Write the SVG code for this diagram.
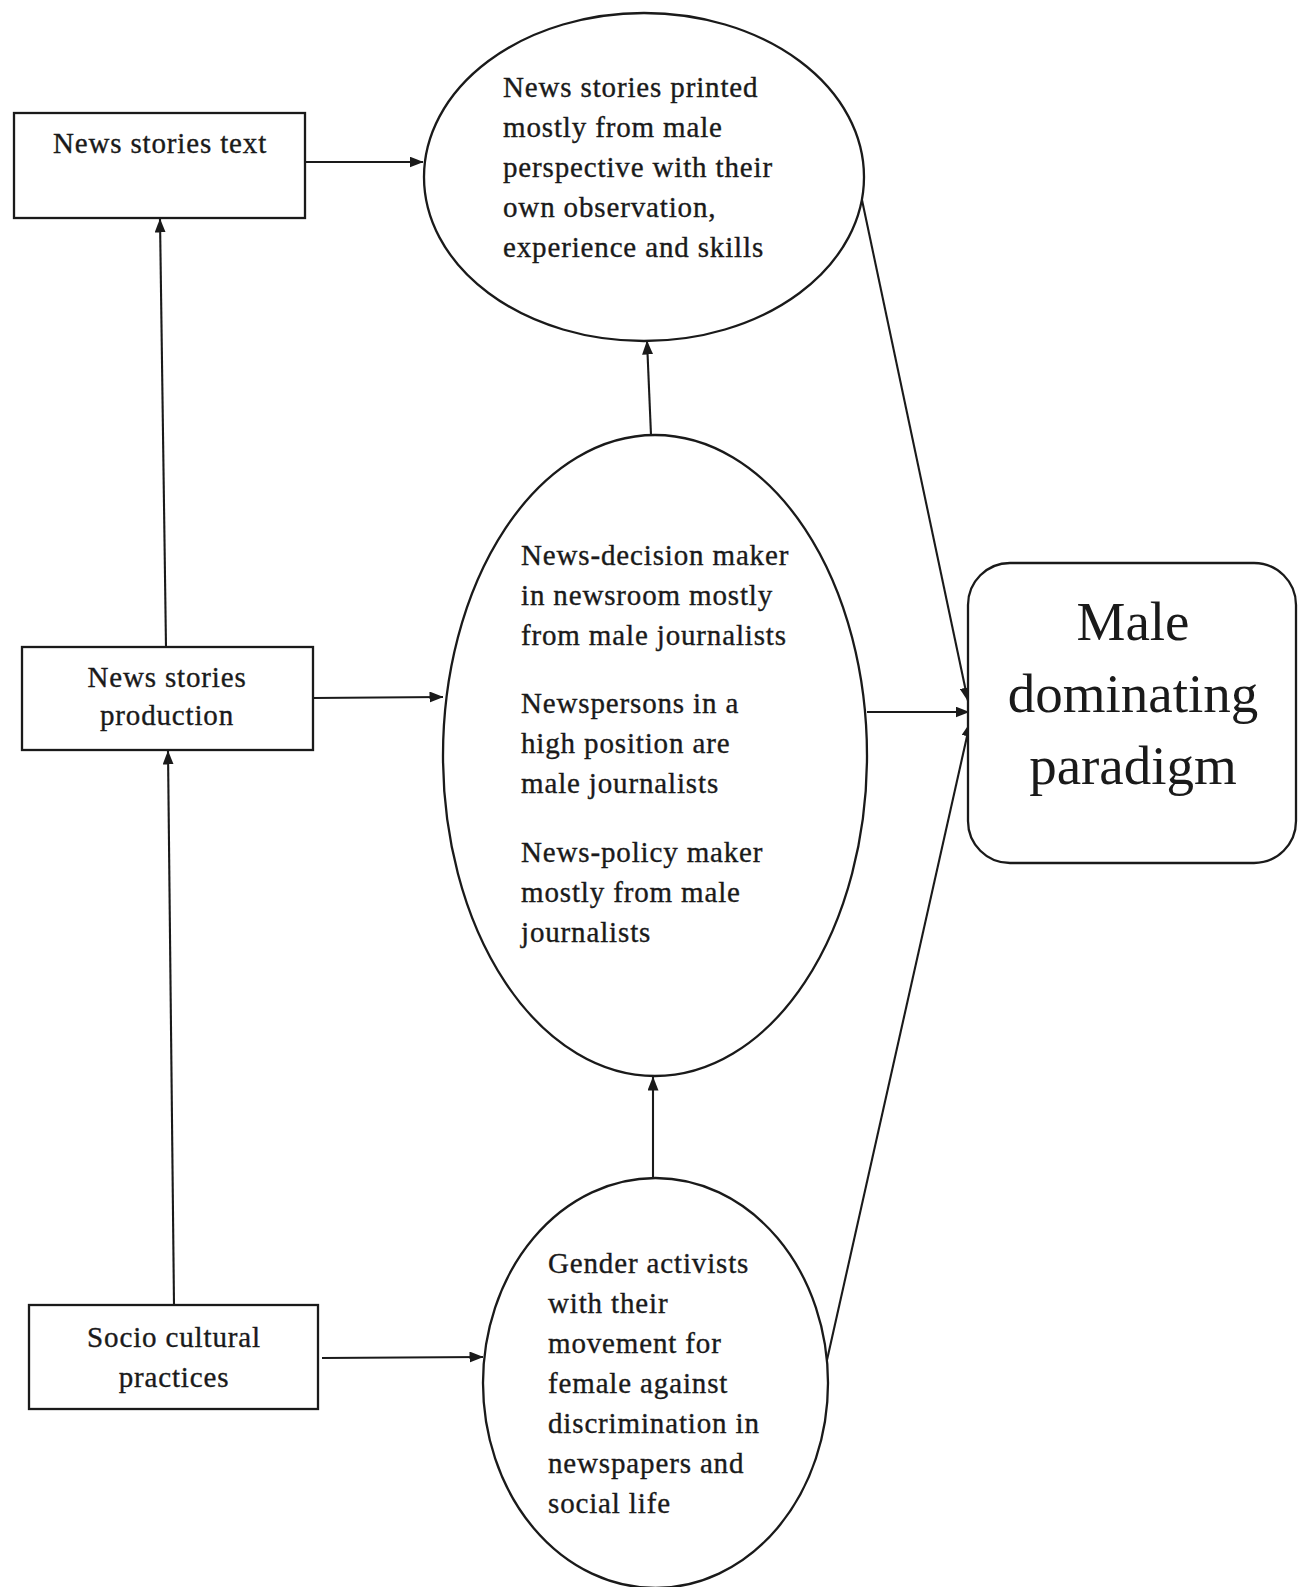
<svg xmlns="http://www.w3.org/2000/svg" width="1298" height="1587" viewBox="0 0 1298 1587">
<style>
.shape{fill:#fff;stroke:#1a1a1a;stroke-width:2.3}
.t{font-family:"Liberation Serif","Times New Roman",serif;font-size:29px;letter-spacing:0.85px;fill:#1a1a1a;stroke:#1a1a1a;stroke-width:0.35}
.c{text-anchor:middle}
.big{font-family:"Liberation Serif","Times New Roman",serif;font-size:55px;fill:#1a1a1a;text-anchor:middle}
.conn{stroke:#1a1a1a;stroke-width:2.1;fill:none;marker-end:url(#arr)}
</style>
<defs>
<marker id="arr" viewBox="0 0 14 11" refX="13.5" refY="5.5" markerWidth="14" markerHeight="11" markerUnits="userSpaceOnUse" orient="auto">
<path d="M0,0 L14,5.5 L0,11 Z" fill="#1a1a1a"/>
</marker>
</defs>
<rect width="1298" height="1587" fill="#fff"/>
<g id="connectors">
<line class="conn" x1="305" y1="162" x2="423" y2="162"/>
<line class="conn" x1="166" y1="647" x2="160" y2="219"/>
<line class="conn" x1="174" y1="1305" x2="168" y2="751"/>
<line class="conn" x1="313" y1="698" x2="443" y2="697"/>
<line class="conn" x1="322" y1="1358" x2="483" y2="1357"/>
<line class="conn" x1="651" y1="435" x2="647" y2="341"/>
<line class="conn" x1="653" y1="1178" x2="653" y2="1077"/>
<line class="conn" x1="867" y1="712" x2="969" y2="712"/>
<line class="conn" x1="862" y1="200" x2="968" y2="701"/>
<line class="conn" x1="827" y1="1360" x2="970" y2="723"/>
</g>
<g id="node-text-box">
<rect class="shape" x="14" y="113" width="291" height="105"/>
<text class="t c" x="160" y="153">News stories text</text>
</g>
<g id="node-production-box">
<rect class="shape" x="22" y="647" width="291" height="103"/>
<text class="t c" x="167" y="687">News stories</text>
<text class="t c" x="167" y="725">production</text>
</g>
<g id="node-socio-box">
<rect class="shape" x="29" y="1305" width="289" height="104"/>
<text class="t c" x="174" y="1347">Socio cultural</text>
<text class="t c" x="174" y="1387">practices</text>
</g>
<g id="node-printed">
<ellipse class="shape" cx="644" cy="177" rx="220" ry="164"/>
<text class="t" x="503" y="97">News stories printed</text>
<text class="t" x="503" y="137">mostly from male</text>
<text class="t" x="503" y="177">perspective with their</text>
<text class="t" x="503" y="217">own observation,</text>
<text class="t" x="503" y="257">experience and skills</text>
</g>
<g id="node-decision">
<ellipse class="shape" cx="655" cy="755.5" rx="212" ry="320.5"/>
<text class="t" x="521" y="565">News-decision maker</text>
<text class="t" x="521" y="605">in newsroom mostly</text>
<text class="t" x="521" y="645">from male journalists</text>
<text class="t" x="521" y="713">Newspersons in a</text>
<text class="t" x="521" y="753">high position are</text>
<text class="t" x="521" y="793">male journalists</text>
<text class="t" x="521" y="862">News-policy maker</text>
<text class="t" x="521" y="902">mostly from male</text>
<text class="t" x="521" y="942">journalists</text>
</g>
<g id="node-activists">
<ellipse class="shape" cx="655.5" cy="1383" rx="172.5" ry="205"/>
<text class="t" x="548" y="1273">Gender activists</text>
<text class="t" x="548" y="1313">with their</text>
<text class="t" x="548" y="1353">movement for</text>
<text class="t" x="548" y="1393">female against</text>
<text class="t" x="548" y="1433">discrimination in</text>
<text class="t" x="548" y="1473">newspapers and</text>
<text class="t" x="548" y="1513">social life</text>
</g>
<g id="node-paradigm">
<rect class="shape" x="968" y="563" width="328" height="300" rx="42" ry="42"/>
<text class="big" x="1133" y="640">Male</text>
<text class="big" x="1133" y="712">dominating</text>
<text class="big" x="1133" y="784">paradigm</text>
</g>
</svg>
